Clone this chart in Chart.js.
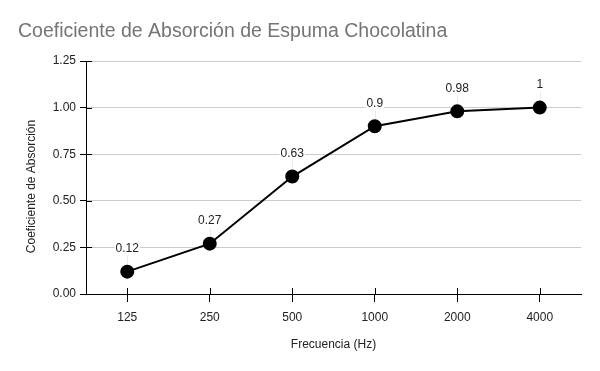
<!DOCTYPE html>
<html>
<head>
<meta charset="utf-8">
<script src="https://cdn.jsdelivr.net/npm/chart.js@4/dist/chart.umd.min.js"></script>
<style>
  html, body { margin: 0; padding: 0; background: #fff; }
  #wrap { width: 600px; height: 371px; }
</style>
</head>
<body>
<div id="wrap"><canvas id="chart" width="600" height="371"></canvas></div>
<script>
// frecuencias (Hz) y coeficientes
const frequencies = ["125", "250", "500", "1000", "2000", "4000"];
const absorption = [0.12, 0.27, 0.63, 0.9, 0.98, 1];
const yTicks = [0, 0.25, 0.5, 0.75, 1, 1.25];
const yTitle = "Coeficiente de Absorción";

const FONT = "'Liberation Sans', Arial, sans-serif";

// small tick marks that cross into the plot, like the sheets chart
const innerTicks = {
  id: "innerTicks",
  afterDraw(chart) {
    const ctx = chart.ctx;
    const x = chart.scales.x, y = chart.scales.y;
    ctx.save();
    ctx.strokeStyle = "#000";
    ctx.lineWidth = 1;
    ctx.beginPath();
    frequencies.forEach((f, i) => {
      const px = Math.round(x.getPixelForValue(i)) + 0.5;
      ctx.moveTo(px, y.bottom);
      ctx.lineTo(px, y.bottom - 6);
    });
    yTicks.forEach(v => {
      const py = Math.round(y.getPixelForValue(v)) + 0.5;
      ctx.moveTo(x.left, py);
      ctx.lineTo(x.left + 6, py);
    });
    ctx.stroke();
    ctx.restore();
  }
};

// value labels above each point (with the faint leader line) + vertical axis title
const pointLabels = {
  id: "pointLabels",
  beforeDatasetsDraw(chart) {
    const ctx = chart.ctx;
    const meta = chart.getDatasetMeta(0);
    ctx.save();
    ctx.font = "12px " + FONT;
    meta.data.forEach((pt, i) => {
      const w = ctx.measureText(String(absorption[i])).width;
      ctx.fillStyle = "#fff";
      ctx.fillRect(pt.x - w / 2 - 1, pt.y - 30, w + 2, 14);
      ctx.strokeStyle = "#ebebeb";
      ctx.lineWidth = 1;
      ctx.beginPath();
      ctx.moveTo(Math.round(pt.x) + 0.5, pt.y - 16);
      ctx.lineTo(Math.round(pt.x) + 0.5, pt.y - 4);
      ctx.stroke();
    });
    ctx.restore();
  },
  afterDatasetsDraw(chart) {
    const ctx = chart.ctx;
    const meta = chart.getDatasetMeta(0);
    ctx.save();
    ctx.font = "12px " + FONT;
    ctx.fillStyle = "#222";
    ctx.textAlign = "center";
    ctx.textBaseline = "middle";
    meta.data.forEach((pt, i) => {
      ctx.fillText(String(absorption[i]), pt.x, pt.y - 23);
    });
    const area = chart.chartArea;
    ctx.translate(32, (area.top + area.bottom) / 2 + 9);
    ctx.rotate(-Math.PI / 2);
    ctx.fillText(yTitle, 0, 0);
    ctx.restore();
  }
};

new Chart(document.getElementById("chart"), {
  type: "line",
  data: {
    labels: frequencies,
    datasets: [{
      data: absorption,
      borderColor: "#000",
      backgroundColor: "#000",
      borderWidth: 2,
      pointRadius: 6,
      pointHoverRadius: 6,
      pointBackgroundColor: "#000",
      pointBorderColor: "#000",
      tension: 0,
      fill: false
    }]
  },
  options: {
    responsive: false,
    animation: false,
    layout: { padding: { left: 18, right: 19, top: 0, bottom: 0 } },
    plugins: {
      legend: { display: false },
      tooltip: { enabled: false },
      title: {
        display: true,
        text: "Coeficiente de Absorción de Espuma Chocolatina",
        align: "start",
        color: "#757575",
        font: { family: FONT, size: 19.5, weight: "normal" },
        padding: { top: 20, bottom: 17.6 }
      }
    },
    scales: {
      x: {
        offset: true,
        grid: { drawOnChartArea: false, color: "#000", tickLength: 8, offset: false },
        border: { color: "#000", width: 1 },
        ticks: { color: "#222", font: { family: FONT, size: 12 }, padding: 8 },
        title: {
          display: true,
          text: "Frecuencia (Hz)",
          color: "#222",
          font: { family: FONT, size: 12 },
          padding: { top: 0, bottom: 19 }
        },
        afterFit(scale) { scale.height = 77; }
      },
      y: {
        min: 0,
        max: 1.25,
        afterBuildTicks(scale) { scale.ticks = yTicks.map(v => ({ value: v })); },
        grid: { color: "#cccccc", tickColor: "#000", tickLength: 6 },
        border: { color: "#000", width: 1 },
        ticks: {
          color: "#222",
          font: { family: FONT, size: 12 },
          padding: 4,
          callback: v => Number(v).toFixed(2)
        },
        afterFit(scale) { scale.width = 68; }
      }
    }
  },
  plugins: [innerTicks, pointLabels]
});
</script>
</body>
</html>
